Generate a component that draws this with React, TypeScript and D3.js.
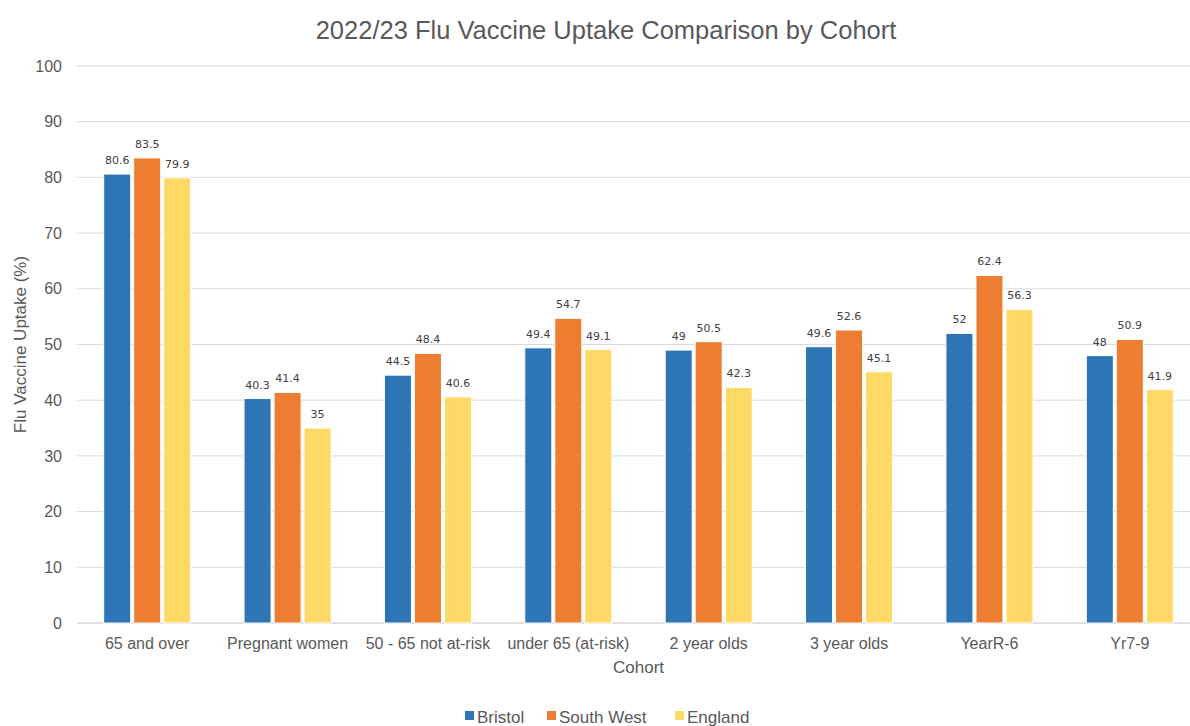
import React from "react";
import * as d3 from "d3";

const categories = ["65 and over", "Pregnant women", "50 - 65 not at-risk", "under 65 (at-risk)", "2 year olds", "3 year olds", "YearR-6", "Yr7-9"];
const seriesNames = ["Bristol", "South West", "England"];
const bristol = [80.6, 40.3, 44.5, 49.4, 49, 49.6, 52, 48];
const southWest = [83.5, 41.4, 48.4, 54.7, 50.5, 52.6, 62.4, 50.9];
const england = [79.9, 35, 40.6, 49.1, 42.3, 45.1, 56.3, 41.9];
const yTicks = [0, 10, 20, 30, 40, 50, 60, 70, 80, 90, 100];
const colors = ["#2E75B6", "#ED7D31", "#FFD966"];

const W = 1190, H = 726;
const left = 77, right = 1200, top = 66, bottom = 623;
const FONT = "'Liberation Sans', Arial, sans-serif";

export default function App() {
  const values = [bristol, southWest, england];
  const x0 = d3.scaleBand<string>().domain(categories).range([left, right]).paddingInner(0.38).paddingOuter(0.19);
  const x1 = d3.scaleBand<string>().domain(seriesNames).range([0, x0.bandwidth()]).paddingInner(0.1).paddingOuter(0);
  const y = d3.scaleLinear().domain([0, 100]).range([bottom, top]);

  return (
    <svg width={W} height={H} style={{ position: "absolute", left: 0, top: 0, background: "#fff" }} fontFamily={FONT}>
      <text x={606} y={39} textAnchor="middle" fontSize={25.5} fill="#595959">2022/23 Flu Vaccine Uptake Comparison by Cohort</text>
      {yTicks.map(t => (
        <g key={t}>
          <line x1={left} x2={W} y1={y(t)} y2={y(t)} stroke={t === 0 ? "#BFBFBF" : "#D9D9D9"} strokeWidth={1} />
          <text x={62} y={y(t)} dy="0.35em" textAnchor="end" fontSize={16} fill="#595959">{t}</text>
        </g>
      ))}
      {categories.map((c, i) => (
        <g key={c}>
          {seriesNames.map((s, j) => {
            const v = values[j][i];
            const bx = (x0(c) as number) + (x1(s) as number);
            const bw = x1.bandwidth();
            return (
              <g key={s}>
                <rect x={bx} y={y(v)} width={bw} height={bottom - y(v)} fill={colors[j]} stroke="#fff" strokeWidth={1} />
                <text x={bx + bw / 2} y={y(v) - 10} textAnchor="middle" fontSize={11} fill="#404040" fontFamily="'DejaVu Sans', sans-serif">{String(v)}</text>
              </g>
            );
          })}
          <text x={(x0(c) as number) + x0.bandwidth() / 2} y={649} textAnchor="middle" fontSize={16} fill="#595959">{c}</text>
        </g>
      ))}
      <text x={(left + right) / 2} y={673} textAnchor="middle" fontSize={17} fill="#595959">Cohort</text>
      <text transform={`translate(26, ${(top + bottom) / 2}) rotate(-90)`} textAnchor="middle" fontSize={17} fill="#595959">Flu Vaccine Uptake (%)</text>
      {(() => {
        const items = [
          { x: 465, name: seriesNames[0] },
          { x: 547, name: seriesNames[1] },
          { x: 675, name: seriesNames[2] },
        ];
        return items.map((it, j) => (
          <g key={it.name}>
            <rect x={it.x} y={711} width={9} height={9} fill={colors[j]} />
            <text x={it.x + 12} y={723} fontSize={17} fill="#595959">{it.name}</text>
          </g>
        ));
      })()}
    </svg>
  );
}
